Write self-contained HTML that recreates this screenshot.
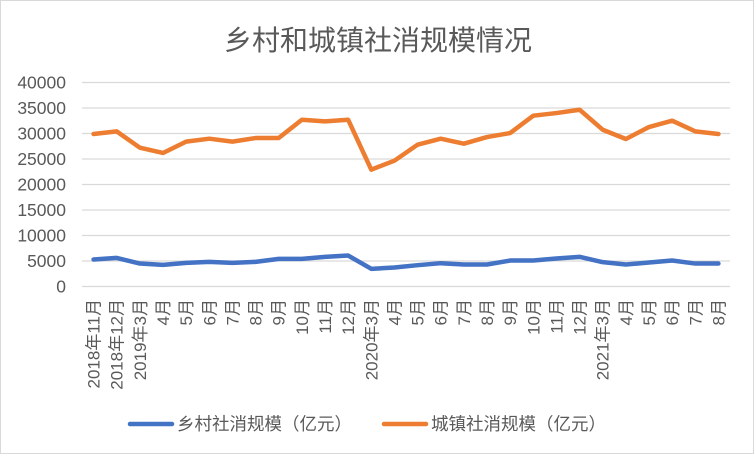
<!DOCTYPE html>
<html><head><meta charset="utf-8"><style>
body{margin:0;background:#fff;}
svg{display:block;font-family:"Liberation Sans","Noto Sans CJK SC",sans-serif;}
</style></head><body>
<svg id="chart" width="754" height="454">
<rect x="0.5" y="0.5" width="753" height="453" fill="#fff" stroke="#d9d9d9"/>
<text x="378" y="50" text-anchor="middle" font-size="28" fill="#595959">乡村和城镇社消规模情况</text>
<g id="grid"></g><g id="ylabels"></g><g id="xlabels"></g><g id="series"></g>
<g>
<line x1="130" y1="424" x2="172" y2="424" stroke="#4472c4" stroke-width="4.5" stroke-linecap="round"/>
<text x="177" y="430" font-size="17.5" fill="#595959">乡村社消规模（亿元）</text>
<line x1="384" y1="424" x2="426" y2="424" stroke="#ed7d31" stroke-width="4.5" stroke-linecap="round"/>
<text x="431" y="430" font-size="17.5" fill="#595959">城镇社消规模（亿元）</text>
</g>
</svg>
<script>
const categories=["2018年11月","2018年12月","2019年3月","4月","5月","6月","7月","8月","9月","10月","11月","12月","2020年3月","4月","5月","6月","7月","8月","9月","10月","11月","12月","2021年3月","4月","5月","6月","7月","8月"];
const rural=[5290,5610,4500,4240,4630,4830,4630,4830,5420,5420,5810,6070,3460,3720,4180,4570,4310,4310,5090,5090,5480,5810,4770,4310,4700,5090,4500,4500];
const urban=[29900,30420,27220,26180,28400,28980,28400,29110,29110,32700,32380,32700,22910,24670,27810,28980,28000,29300,30090,33490,34010,34660,30740,28920,31270,32510,30420,29900];
const yTicks=[0,5000,10000,15000,20000,25000,30000,35000,40000];
const NS="http://www.w3.org/2000/svg";
const X0=82,X1=730,Y0=286.5,Y1=82.5,YMAX=40000;
const bw=(X1-X0)/categories.length;
function xs(i){return X0+bw*(i+0.5);}
function ys(v){return Y0-(v/YMAX)*(Y0-Y1);}
function mk(tag,attrs,parent){const e=document.createElementNS(NS,tag);for(const k in attrs)e.setAttribute(k,attrs[k]);parent.appendChild(e);return e;}
const grid=document.getElementById('grid'),yl=document.getElementById('ylabels'),xl=document.getElementById('xlabels'),se=document.getElementById('series');
yTicks.forEach(t=>{
 const l=mk('line',{x1:X0,x2:X1,y1:ys(t),y2:ys(t),stroke:'#d9d9d9','stroke-width':1.3},grid);
 
 
 const tx=mk('text',{x:66,y:ys(t)+6,'text-anchor':'end','font-size':17.5,fill:'#595959'},yl);
 tx.textContent=t;
 
 
});
categories.forEach((c,i)=>{
 const x=xs(i)+6;
 const tx=mk('text',{x:0,y:0,'text-anchor':'end','font-size':17,fill:'#595959',transform:`translate(${x},299) rotate(-90)`},xl);
 tx.textContent=c;
 
 
});
function line(vals,color,name){
 const p=mk('polyline',{points:vals.map((v,i)=>xs(i)+','+ys(v)).join(' '),fill:'none',stroke:color,'stroke-width':4.5,'stroke-linejoin':'round','stroke-linecap':'round'},se);
 
 
}
line(rural,'#4472c4','rural-line');
line(urban,'#ed7d31','urban-line');
</script>
</body></html>
